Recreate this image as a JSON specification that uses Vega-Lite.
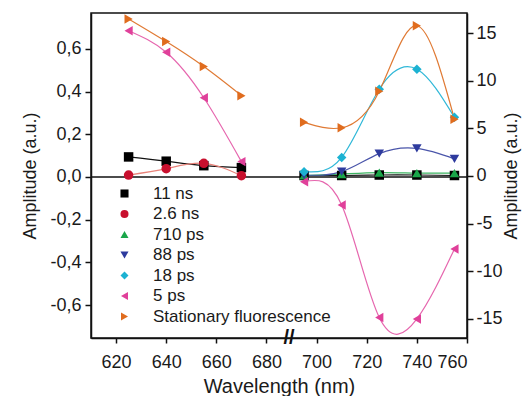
{
  "$schema": "https://vega.github.io/schema/vega-lite/v6.json",
  "width": 376,
  "height": 325,
  "autosize": {"type": "none"},
  "padding": {"left": 91, "top": 13, "right": 58, "bottom": 58},
  "config": {
    "font": "Liberation Sans",
    "locale": {"number": {"decimal": ",", "thousands": ".", "grouping": [3], "currency": ["", ""], "minus": "-"}},
    "view": {"stroke": "#111111", "strokeWidth": 1.5},
    "axis": {
      "domainColor": "#111111", "domainWidth": 1.5,
      "tickColor": "#111111", "tickWidth": 1.5, "tickSize": 6,
      "labelFont": "Liberation Sans", "labelFontSize": 18, "labelColor": "#1a1a1a",
      "titleFont": "Liberation Sans", "titleFontSize": 18, "titleFontWeight": "normal", "titleColor": "#1a1a1a",
      "grid": false
    }
  },
  "data": {
    "values": [
      {"name": "11 ns", "seg": "L", "wl": 625, "amp": 0.094},
      {"name": "11 ns", "seg": "L", "wl": 640, "amp": 0.074},
      {"name": "11 ns", "seg": "L", "wl": 655, "amp": 0.053},
      {"name": "11 ns", "seg": "L", "wl": 670, "amp": 0.044},
      {"name": "2.6 ns", "seg": "L", "wl": 625, "amp": 0.009},
      {"name": "2.6 ns", "seg": "L", "wl": 640, "amp": 0.039},
      {"name": "2.6 ns", "seg": "L", "wl": 655, "amp": 0.064},
      {"name": "2.6 ns", "seg": "L", "wl": 670, "amp": 0.006},
      {"name": "5 ps", "seg": "L", "wl": 625, "amp": 0.685},
      {"name": "5 ps", "seg": "L", "wl": 640, "amp": 0.584},
      {"name": "5 ps", "seg": "L", "wl": 655, "amp": 0.371},
      {"name": "5 ps", "seg": "L", "wl": 670, "amp": 0.072},
      {"name": "Stationary fluorescence", "seg": "L", "wl": 625, "amp": 0.74},
      {"name": "Stationary fluorescence", "seg": "L", "wl": 640, "amp": 0.634},
      {"name": "Stationary fluorescence", "seg": "L", "wl": 655, "amp": 0.517},
      {"name": "Stationary fluorescence", "seg": "L", "wl": 670, "amp": 0.381},
      {"name": "11 ns", "seg": "R", "wl": 695, "amp": 0.05},
      {"name": "11 ns", "seg": "R", "wl": 710, "amp": 0.05},
      {"name": "11 ns", "seg": "R", "wl": 725, "amp": 0.1},
      {"name": "11 ns", "seg": "R", "wl": 740, "amp": 0.1},
      {"name": "11 ns", "seg": "R", "wl": 755, "amp": 0.05},
      {"name": "710 ps", "seg": "R", "wl": 695, "amp": 0.05},
      {"name": "710 ps", "seg": "R", "wl": 710, "amp": 0.2},
      {"name": "710 ps", "seg": "R", "wl": 725, "amp": 0.35},
      {"name": "710 ps", "seg": "R", "wl": 740, "amp": 0.3},
      {"name": "710 ps", "seg": "R", "wl": 755, "amp": 0.3},
      {"name": "88 ps", "seg": "R", "wl": 695, "amp": 0.1},
      {"name": "88 ps", "seg": "R", "wl": 710, "amp": 0.45},
      {"name": "88 ps", "seg": "R", "wl": 725, "amp": 2.35},
      {"name": "88 ps", "seg": "R", "wl": 740, "amp": 2.9},
      {"name": "88 ps", "seg": "R", "wl": 755, "amp": 1.8},
      {"name": "18 ps", "seg": "R", "wl": 695, "amp": 0.45},
      {"name": "18 ps", "seg": "R", "wl": 710, "amp": 1.95},
      {"name": "18 ps", "seg": "R", "wl": 725, "amp": 9.1},
      {"name": "18 ps", "seg": "R", "wl": 740, "amp": 11.2},
      {"name": "18 ps", "seg": "R", "wl": 755, "amp": 6.15},
      {"name": "5 ps", "seg": "R", "wl": 695, "amp": -0.6},
      {"name": "5 ps", "seg": "R", "wl": 710, "amp": -3.04},
      {"name": "5 ps", "seg": "R", "wl": 725, "amp": -14.85},
      {"name": "5 ps", "seg": "R", "wl": 740, "amp": -15.0},
      {"name": "5 ps", "seg": "R", "wl": 755, "amp": -7.65},
      {"name": "Stationary fluorescence", "seg": "R", "wl": 695, "amp": 5.63},
      {"name": "Stationary fluorescence", "seg": "R", "wl": 710, "amp": 5.06},
      {"name": "Stationary fluorescence", "seg": "R", "wl": 725, "amp": 8.9},
      {"name": "Stationary fluorescence", "seg": "R", "wl": 740, "amp": 15.76},
      {"name": "Stationary fluorescence", "seg": "R", "wl": 755, "amp": 5.95}
    ]
  },
  "layer": [
    {
      "layer": [
        {
          "data": {"values": [{}]},
          "mark": {"type": "rule", "color": "#111111", "strokeWidth": 1.5},
          "encoding": {"y": {"datum": 0, "type": "quantitative"}}
        },
        {
          "data": {"values": [{}]},
          "mark": {"type": "text", "text": "//", "fontSize": 20, "fontWeight": "bold", "color": "#111111", "baseline": "middle", "align": "center"},
          "encoding": {
            "x": {"datum": 689, "type": "quantitative"},
            "y": {"datum": -0.754, "type": "quantitative"}
          }
        },
        {
          "transform": [{"filter": "datum.seg == 'L'"}],
          "mark": {"type": "line", "interpolate": "natural", "strokeWidth": 1.2},
          "encoding": {
            "x": {"field": "wl", "type": "quantitative", "scale": {"domain": [610, 760], "nice": false, "zero": false},
                  "axis": {"title": "Wavelength (nm)", "titleFontSize": 20, "values": [620, 640, 660, 680, 700, 720, 740, 760], "format": "d", "labelOverlap": false, "tickSize": 5, "labelPadding": 10, "titlePadding": 5}},
            "y": {"field": "amp", "type": "quantitative", "scale": {"domain": [-0.754, 0.768], "nice": false, "zero": false},
                  "axis": {"orient": "left", "title": "Amplitude (a.u.)", "values": [-0.6, -0.4, -0.2, 0, 0.2, 0.4, 0.6], "format": ".1f", "labelOverlap": false, "labelPadding": 4, "titlePadding": 10}},
            "stroke": {"field": "name", "type": "nominal",
                       "scale": {"domain": ["11 ns", "2.6 ns", "710 ps", "88 ps", "18 ps", "5 ps", "Stationary fluorescence"],
                                 "range": ["#111111", "#e8837a", "#3db462", "#4a55aa", "#30b8d8", "#e666ae", "#e07a34"]},
                       "legend": {"orient": "none", "legendX": 25, "legendY": 172, "title": null, "padding": 0,
                                  "symbolSize": 65, "symbolStrokeWidth": 0, "rowPadding": 2.5, "labelLimit": 300,
                                  "labelOffset": 20, "labelFont": "Liberation Sans", "labelFontSize": 17, "labelColor": "#1a1a1a"}},
            "detail": {"field": "name"}
          }
        },
        {
          "transform": [{"filter": "datum.seg == 'L'"}],
          "mark": {"type": "point", "filled": true, "size": 90, "opacity": 1},
          "encoding": {
            "x": {"field": "wl", "type": "quantitative"},
            "y": {"field": "amp", "type": "quantitative"},
            "fill": {"field": "name", "type": "nominal",
                     "scale": {"domain": ["11 ns", "2.6 ns", "710 ps", "88 ps", "18 ps", "5 ps", "Stationary fluorescence"],
                               "range": ["#000000", "#c8102e", "#1aa64a", "#2e3b9e", "#1cb2d2", "#e0409a", "#e06c1e"]},
                     "legend": {"orient": "none", "legendX": 25, "legendY": 172, "title": null, "padding": 0,
                                "symbolSize": 65, "symbolStrokeWidth": 0, "rowPadding": 2.5, "labelLimit": 300,
                                "labelOffset": 20, "labelFont": "Liberation Sans", "labelFontSize": 17, "labelColor": "#1a1a1a"}},
            "shape": {"field": "name", "type": "nominal",
                      "scale": {"domain": ["11 ns", "2.6 ns", "710 ps", "88 ps", "18 ps", "5 ps", "Stationary fluorescence"],
                                "range": ["square", "circle", "triangle-up", "triangle-down", "diamond", "triangle-left", "triangle-right"]},
                      "legend": {"orient": "none", "legendX": 25, "legendY": 172, "title": null, "padding": 0,
                                 "symbolSize": 65, "symbolStrokeWidth": 0, "rowPadding": 2.5, "labelLimit": 300,
                                 "labelOffset": 20, "labelFont": "Liberation Sans", "labelFontSize": 17, "labelColor": "#1a1a1a"}}
          }
        }
      ]
    },
    {
      "transform": [{"filter": "datum.seg == 'R'"}],
      "layer": [
        {
          "mark": {"type": "line", "interpolate": "natural", "strokeWidth": 1.2},
          "encoding": {
            "x": {"field": "wl", "type": "quantitative"},
            "y": {"field": "amp", "type": "quantitative", "scale": {"domain": [-17, 17.1], "nice": false, "zero": false},
                  "axis": {"orient": "right", "title": "Amplitude (a.u.)", "titleAngle": 270, "values": [-15, -12.5, -10, -7.5, -5, -2.5, 0, 2.5, 5, 7.5, 10, 12.5, 15], "labelExpr": "datum.value % 5 == 0 ? (datum.value < 0 ? '-' : '') + format(abs(datum.value), 'd') : ''", "labelOverlap": false, "labelPadding": 3, "titlePadding": 18}},
            "stroke": {"field": "name", "type": "nominal"},
            "detail": {"field": "name"}
          }
        },
        {
          "mark": {"type": "point", "filled": true, "size": 90, "opacity": 1},
          "encoding": {
            "x": {"field": "wl", "type": "quantitative"},
            "y": {"field": "amp", "type": "quantitative"},
            "fill": {"field": "name", "type": "nominal"},
            "shape": {"field": "name", "type": "nominal"}
          }
        }
      ]
    }
  ],
  "resolve": {"scale": {"y": "independent"}}
}
